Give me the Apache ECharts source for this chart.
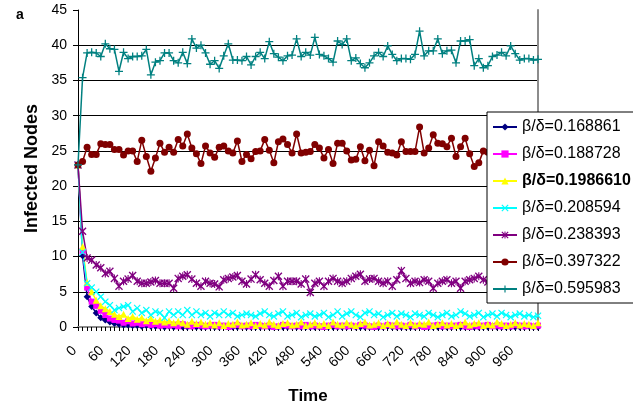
<!DOCTYPE html>
<html><head><meta charset="utf-8">
<script src="https://cdn.jsdelivr.net/npm/echarts@6/dist/echarts.min.js"></script>
<style>html,body{margin:0;padding:0;background:#fff}#c{width:633px;height:406px}</style>
</head><body><div id="c"></div>
<script>
const times = ['0','10','20','30','40','50','60','70','80','90',
'100','110','120','130','140','150','160','170','180','190',
'200','210','220','230','240','250','260','270','280','290',
'300','310','320','330','340','350','360','370','380','390',
'400','410','420','430','440','450','460','470','480','490',
'500','510','520','530','540','550','560','570','580','590',
'600','610','620','630','640','650','660','670','680','690',
'700','710','720','730','740','750','760','770','780','790',
'800','810','820','830','840','850','860','870','880','890',
'900','910','920','930','940','950','960','970','980','990',
'1000','1010'];

const seriesNames = ['β/δ=0.168861','β/δ=0.188728','β/δ=0.1986610','β/δ=0.208594','β/δ=0.238393','β/δ=0.397322','β/δ=0.595983'];

const s168861 = [23, 10.1, 4.3, 2.9, 2.0, 1.3, 1.0, 0.7, 0.5, 0.4,
0.3, 0.3, 0.2, 0.2, 0.1, 0.2, 0.1, 0.1, 0.1, 0.0,
0.1, 0.0, 0.1, 0.0, 0.0, 0.1, 0.0, 0.0, 0.0, 0.1,
0.0, 0.0, 0.1, 0.0, 0.0, 0.0, 0.1, 0.0, 0.0, 0.0,
0.0, 0.1, 0.0, 0.0, 0.0, 0.0, 0.0, 0.1, 0.0, 0.0,
0.0, 0.0, 0.0, 0.0, 0.1, 0.0, 0.0, 0.0, 0.0, 0.0,
0.1, 0.0, 0.0, 0.0, 0.0, 0.0, 0.0, 0.0, 0.1, 0.0,
0.0, 0.0, 0.0, 0.0, 0.0, 0.1, 0.0, 0.0, 0.0, 0.0,
0.0, 0.0, 0.0, 0.1, 0.0, 0.0, 0.0, 0.0, 0.0, 0.0,
0.0, 0.1, 0.0, 0.0, 0.0, 0.0, 0.0, 0.0, 0.0, 0.1,
0.0, 0.0];

const s188728 = [23, 10.8, 5.6, 3.6, 3.0, 2.3, 1.7, 1.2, 1.0, 0.9,
0.6, 0.8, 0.5, 0.6, 0.4, 0.5, 0.3, 0.4, 0.2, 0.3,
0.2, 0.3, 0.1, 0.4, 0.2, 0.1, 0.3, 0.2, 0.1, 0.2,
0.3, 0.1, 0.2, 0.0, 0.2, 0.3, 0.1, 0.2, 0.1, 0.3,
0.2, 0.1, 0.2, 0.0, 0.1, 0.3, 0.2, 0.1, 0.2, 0.1,
0.3, 0.1, 0.2, 0.1, 0.0, 0.2, 0.3, 0.1, 0.2, 0.1,
0.2, 0.1, 0.3, 0.2, 0.1, 0.0, 0.2, 0.1, 0.3, 0.2,
0.1, 0.2, 0.1, 0.3, 0.1, 0.2, 0.0, 0.1, 0.2, 0.3,
0.1, 0.2, 0.1, 0.2, 0.3, 0.1, 0.0, 0.2, 0.1, 0.2,
0.3, 0.1, 0.2, 0.1, 0.2, 0.1, 0.3, 0.2, 0.1, 0.2,
0.1, 0.2];

const s198661 = [23, 11.4, 6.3, 5.0, 3.8, 3.0, 2.6, 2.2, 1.8, 1.5,
1.8, 1.2, 1.5, 1.1, 1.3, 0.9, 1.2, 0.8, 1.0, 0.7,
0.9, 0.6, 0.8, 0.6, 0.4, 0.8, 0.5, 0.7, 0.4, 0.6,
0.3, 0.6, 0.2, 0.5, 0.4, 0.7, 0.3, 0.4, 0.6, 0.2,
0.5, 0.3, 0.7, 0.4, 0.2, 0.5, 0.6, 0.3, 0.4, 0.7,
0.2, 0.4, 0.6, 0.3, 0.5, 0.2, 0.7, 0.4, 0.3, 0.6,
0.4, 0.2, 0.5, 0.7, 0.3, 0.4, 0.6, 0.2, 0.5, 0.3,
0.7, 0.4, 0.2, 0.6, 0.3, 0.5, 0.4, 0.7, 0.2, 0.4,
0.6, 0.3, 0.5, 0.2, 0.4, 0.7, 0.3, 0.5, 0.6, 0.2,
0.4, 0.3, 0.7, 0.5, 0.2, 0.4, 0.6, 0.3, 0.5, 0.4,
0.2, 0.6];

const s208594 = [23, 10.6, 6.2, 5.6, 5.0, 4.3, 3.6, 3.1, 2.4, 2.7,
2.9, 3.1, 2.2, 2.7, 2.0, 2.4, 1.7, 2.2, 2.0, 1.3,
2.2, 1.7, 2.2, 1.7, 2.4, 1.7, 2.2, 1.7, 2.0, 1.5,
2.0, 1.7, 2.2, 1.7, 2.0, 1.5, 1.7, 1.9, 1.7, 1.5,
1.9, 2.2, 1.7, 1.5, 1.9, 2.2, 1.5, 1.7, 2.0, 1.4,
1.7, 1.9, 1.5, 1.7, 2.0, 1.4, 1.7, 2.2, 1.5, 1.9,
2.2, 1.7, 1.4, 2.0, 2.2, 1.7, 1.9, 1.4, 1.7, 2.0,
1.5, 1.9, 1.7, 1.4, 1.9, 1.7, 1.5, 2.0, 1.7, 1.4,
1.7, 2.0, 1.5, 1.7, 2.2, 1.9, 1.5, 1.7, 2.0, 1.4,
1.7, 1.9, 1.5, 2.0, 1.7, 1.4, 1.7, 1.9, 1.5, 1.7,
1.4, 1.6];

const s238393 = [23.0, 13.6, 9.8, 9.5, 8.8, 8.4, 7.6, 7.9, 6.9, 5.8,
6.5, 6.8, 7.3, 6.5, 6.2, 6.2, 6.4, 6.6, 6.2, 6.2,
6.2, 5.5, 6.9, 7.2, 7.4, 6.8, 6.2, 5.8, 6.5, 6.2,
6.1, 5.7, 6.7, 6.9, 7.1, 7.3, 6.5, 6.1, 6.8, 7.4,
6.7, 6.2, 5.8, 6.6, 7.2, 5.8, 6.5, 6.5, 6.5, 6.1,
6.8, 4.9, 6.2, 6.5, 5.8, 6.5, 6.9, 6.5, 6.2, 6.5,
6.9, 7.2, 7.5, 6.5, 6.8, 6.9, 6.5, 6.2, 6.5, 5.8,
6.7, 8.0, 6.9, 6.2, 6.5, 6.3, 6.7, 6.5, 5.5, 6.2,
6.5, 6.7, 6.2, 6.5, 5.5, 6.5, 6.7, 6.9, 7.2, 6.7,
6.4, 6.9, 6.1, 6.6, 7.0, 6.3, 6.5, 6.8, 6.2, 6.6,
6.4, 6.7];

const s397322 = [23.0, 23.5, 25.5, 24.5, 24.5, 26.0, 25.9, 25.9, 25.2, 25.2,
24.4, 25.0, 25.0, 23.5, 26.5, 24.2, 22.1, 24.0, 26.1, 24.8,
25.5, 24.8, 26.6, 25.7, 27.4, 25.4, 24.6, 23.2, 25.7, 24.7,
24.1, 25.5, 25.7, 25.0, 24.7, 26.4, 23.5, 24.5, 23.9, 24.9,
25.0, 26.6, 25.1, 23.3, 26.3, 26.7, 25.9, 24.7, 27.4, 24.7,
24.8, 24.9, 25.9, 25.4, 24.0, 25.2, 23.2, 26.1, 26.1, 25.0,
23.7, 23.8, 25.6, 23.6, 25.1, 22.9, 26.3, 25.7, 24.8, 24.7,
24.4, 26.3, 24.9, 24.9, 24.9, 28.4, 24.7, 25.4, 27.3, 26.1,
26.0, 25.6, 26.8, 24.2, 25.6, 26.8, 24.6, 22.8, 23.3, 25.0,
24.8, 25.6, 24.3, 25.9, 24.6, 25.2, 26.1, 24.7, 25.4, 24.9,
25.3, 24.8];

const s595983 = [23.0, 35.4, 38.9, 39.0, 38.9, 38.4, 40.2, 39.5, 39.4, 36.3,
39.0, 38.1, 38.4, 38.4, 38.5, 39.4, 35.8, 37.6, 37.8, 38.9,
38.9, 37.8, 37.5, 39.0, 37.4, 40.9, 39.6, 40.0, 38.9, 37.3,
37.8, 36.7, 38.5, 40.2, 37.9, 37.9, 37.8, 38.4, 37.2, 38.4,
39.0, 38.1, 40.5, 38.8, 38.3, 37.8, 38.5, 38.6, 40.9, 38.4,
39.0, 38.6, 41.1, 38.7, 38.5, 38.1, 37.6, 40.6, 40.1, 40.9,
37.8, 38.2, 37.4, 36.8, 37.5, 38.5, 39.0, 38.4, 39.9, 38.7,
37.8, 38.1, 38.1, 38.0, 38.7, 42.0, 38.5, 39.2, 39.2, 40.9,
38.8, 39.2, 39.3, 37.5, 40.6, 40.6, 40.8, 37.1, 38.1, 36.8,
37.1, 38.4, 38.6, 39.0, 38.5, 39.9, 38.8, 37.9, 38.1, 38.1,
37.9, 38.0];

const FONT = '"Liberation Sans", Arial, sans-serif';
const SYM_X = 'path://M0,1.2L1.2,0L5,3.8L8.8,0L10,1.2L6.2,5L10,8.8L8.8,10L5,6.2L1.2,10L0,8.8L3.8,5Z';
const SYM_PLUS = 'path://M4.2,0H5.8V4.2H10V5.8H5.8V10H4.2V5.8H0V4.2H4.2Z';
const SYM_STAR = 'path://M0,1.2L1.2,0L5,3.8L8.8,0L10,1.2L6.2,5L10,8.8L8.8,10L5,6.2L1.2,10L0,8.8L3.8,5ZM4.3,0H5.7V10H4.3Z';

function mk(name, data, color, symbol, size) {
  return {
    name: name, type: 'line', data: data, symbol: symbol, symbolSize: size,
    showAllSymbol: true, silent: true,
    lineStyle: { color: color, width: 1.5 },
    itemStyle: { color: color, borderWidth: 0 },
    emphasis: { disabled: true }
  };
}

const chart = echarts.init(document.getElementById('c'));
chart.setOption({
  animation: false,
  backgroundColor: '#fff',
  title: { text: 'a', left: 11, top: 3, textStyle: { fontFamily: FONT, fontSize: 14, fontWeight: 'bold', color: '#000' } },
  grid: { left: 78, top: 10, right: 95, bottom: 79, outerBoundsMode: 'none' },
  xAxis: [{
    type: 'category', data: times, boundaryGap: false,
    name: 'Time', nameLocation: 'middle', nameGap: 61, nameMoveOverlap: false,
    nameTextStyle: { fontFamily: FONT, fontSize: 17, fontWeight: 'bold', color: '#000' },
    axisLine: { lineStyle: { color: '#000', width: 1 } },
    axisTick: { interval: 0, length: 4, lineStyle: { color: '#000' } },
    axisLabel: { interval: 5, rotate: 45, margin: 18, padding: [0, 5, 0, 0], color: '#000', fontFamily: FONT, fontSize: 14 },
    splitLine: { show: false }
  }, {
    type: 'category', data: times, boundaryGap: false, position: 'top',
    axisLine: { lineStyle: { color: '#8c8c8c', width: 2 } },
    axisTick: { show: false }, axisLabel: { show: false }, splitLine: { show: false }
  }],
  yAxis: [{
    type: 'value', min: 0, max: 45, interval: 5,
    name: 'Infected Nodes', nameLocation: 'middle', nameGap: 37, nameMoveOverlap: false,
    nameTextStyle: { fontFamily: FONT, fontSize: 18, fontWeight: 'bold', color: '#000' },
    axisLine: { show: true, lineStyle: { color: '#000', width: 1 } },
    axisTick: { show: true, length: 5, lineStyle: { color: '#000' } },
    axisLabel: { margin: 11, color: '#000', fontFamily: FONT, fontSize: 14 },
    splitLine: { show: true, showMaxLine: false, lineStyle: { color: '#000', width: 1 } }
  }, {
    type: 'value', min: 0, max: 45, interval: 5, position: 'right',
    axisLine: { show: true, lineStyle: { color: '#8c8c8c', width: 2 } },
    axisTick: { show: false }, axisLabel: { show: false }, splitLine: { show: false }
  }],
  legend: {
    orient: 'vertical', left: 487, top: 112,
    itemWidth: 24, itemHeight: 9, itemGap: 11,
    padding: [7, 5, 6, 5],
    backgroundColor: '#fff', borderColor: '#000', borderWidth: 1,
    textStyle: { fontFamily: FONT, fontSize: 16, color: '#000', lineHeight: 16 },
    data: seriesNames.map(function (n, i) { return i === 2 ? { name: n, textStyle: { fontWeight: 'bold' } } : n; })
  },
  series: [
    mk(seriesNames[0], s168861, '#000080', 'diamond', 7),
    mk(seriesNames[1], s188728, '#ff00ff', 'rect', 6),
    mk(seriesNames[2], s198661, '#ffff00', 'triangle', 7),
    mk(seriesNames[3], s208594, '#00ffff', SYM_X, 7),
    mk(seriesNames[4], s238393, '#800080', SYM_STAR, 8),
    mk(seriesNames[5], s397322, '#800000', 'circle', 7),
    mk(seriesNames[6], s595983, '#008080', SYM_PLUS, 8)
  ]
});
</script>
</body></html>
